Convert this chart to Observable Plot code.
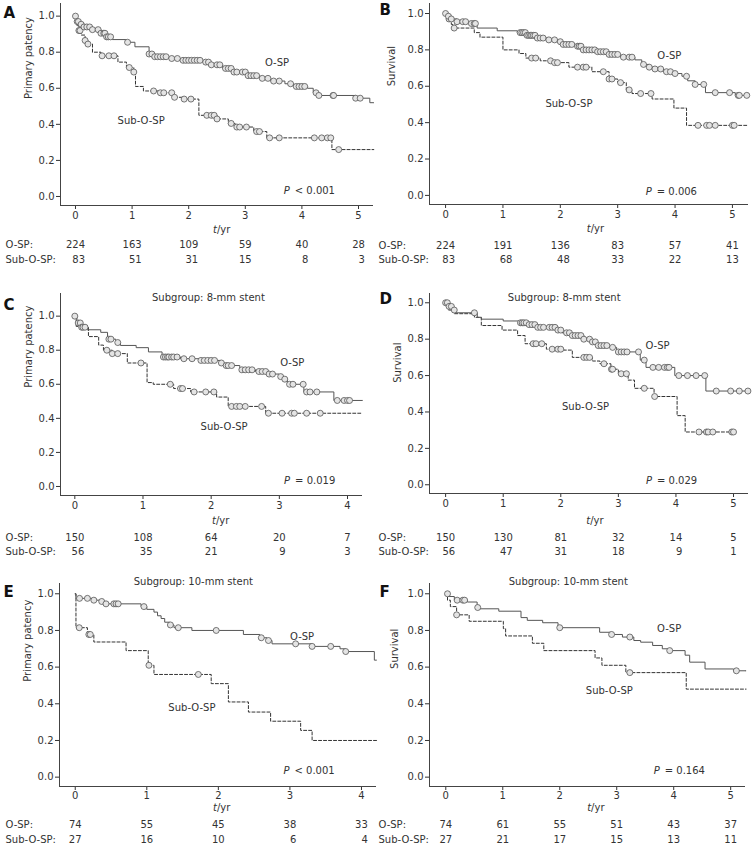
<!DOCTYPE html>
<html><head><meta charset="utf-8">
<script src="https://cdn.jsdelivr.net/npm/d3@7"></script>
<script src="https://cdn.jsdelivr.net/npm/@observablehq/plot@0.6"></script>
<style>
body{margin:0;background:#fff;}
#wrap{position:relative;width:754px;height:851px;overflow:hidden;background:#fff;}
#wrap svg{position:absolute;overflow:visible;}
</style></head><body><div id="wrap"></div>
<script>
// ---------- DATA ----------
const groupNames = ["O-SP", "Sub-O-SP"];
const panelLetters = ["A","B","C","D","E","F"];
const yTitles = ["Primary patency","Survival","Primary patency","Survival","Primary patency","Survival"];
const subgroupTitles = ["", "", "Subgroup: 8-mm stent", "Subgroup: 8-mm stent", "Subgroup: 10-mm stent", "Subgroup: 10-mm stent"];
const pSigns = ["<", "=", "=", "=", "<", "="];
const pValues = ["0.001", "0.006", "0.019", "0.029", "0.001", "0.164"];
const yTicks = [0, 0.2, 0.4, 0.6, 0.8, 1.0];
const xTicks5 = [0, 1, 2, 3, 4, 5];
const xTicks4 = [0, 1, 2, 3, 4];

// Kaplan-Meier steps [time (yr), estimate] and censor times
const A_osp = [[0,1],[0.02,0.97],[0.08,0.955],[0.15,0.94],[0.3,0.925],[0.45,0.905],[0.55,0.885],[0.65,0.87],[0.9,0.855],[1.05,0.83],[1.3,0.79],[1.38,0.775],[1.65,0.765],[1.9,0.755],[2.25,0.745],[2.4,0.73],[2.6,0.71],[2.8,0.69],[3.05,0.67],[3.25,0.655],[3.45,0.64],[3.7,0.625],[3.85,0.61],[4.1,0.6],[4.2,0.575],[4.3,0.56],[4.95,0.545],[5.2,0.52]];
const A_osp_cens = [0,0.03,0.05,0.1,0.15,0.2,0.25,0.3,0.4,0.45,0.5,0.52,0.55,0.58,0.62,0.92,1.3,1.35,1.4,1.45,1.5,1.55,1.6,1.7,1.8,1.9,1.95,2.0,2.05,2.1,2.15,2.2,2.3,2.35,2.4,2.5,2.55,2.65,2.7,2.75,2.8,2.85,2.95,3.0,3.05,3.1,3.15,3.2,3.3,3.4,3.5,3.6,3.8,3.9,3.95,4.0,4.05,4.25,4.3,4.55,4.56,4.95,5.03];
const A_sub = [[0,1],[0.02,0.95],[0.05,0.92],[0.1,0.895],[0.17,0.865],[0.22,0.845],[0.3,0.8],[0.45,0.78],[0.75,0.745],[0.9,0.715],[1.03,0.69],[1.06,0.61],[1.2,0.585],[1.5,0.575],[1.72,0.55],[1.9,0.54],[2.18,0.45],[2.5,0.43],[2.7,0.405],[2.82,0.385],[3.15,0.36],[3.38,0.325],[4.53,0.26]];
const A_sub_cens = [0.06,0.08,0.17,0.22,0.47,0.59,0.68,0.95,1.03,1.38,1.5,1.56,1.7,1.75,1.92,2.04,2.32,2.4,2.45,2.5,2.75,2.85,2.9,3.02,3.2,3.25,3.43,3.6,4.22,4.35,4.45,4.51,4.65];

const B_osp = [[0,1],[0.03,0.985],[0.08,0.97],[0.2,0.955],[0.4,0.945],[0.55,0.92],[0.9,0.905],[1.25,0.895],[1.4,0.88],[1.6,0.865],[1.8,0.855],[1.95,0.845],[2.05,0.83],[2.25,0.82],[2.4,0.8],[2.65,0.79],[2.85,0.775],[3.05,0.76],[3.3,0.745],[3.42,0.72],[3.55,0.705],[3.65,0.695],[3.8,0.68],[3.98,0.67],[4.12,0.655],[4.22,0.63],[4.35,0.61],[4.53,0.565],[5.05,0.55]];
const B_osp_cens = [0,0.05,0.1,0.2,0.3,0.35,0.45,0.5,0.52,1.3,1.33,1.36,1.39,1.42,1.45,1.48,1.5,1.53,1.56,1.6,1.65,1.7,1.8,1.9,2.0,2.05,2.1,2.15,2.2,2.3,2.33,2.36,2.4,2.45,2.5,2.55,2.6,2.65,2.7,2.75,2.8,2.85,2.9,2.95,3.0,3.1,3.2,3.25,3.45,3.55,3.65,3.75,3.85,3.92,4.0,4.2,4.35,4.5,4.7,4.95,5.1,5.12,5.25];
const B_sub = [[0,1],[0.04,0.97],[0.1,0.94],[0.15,0.92],[0.5,0.895],[0.6,0.87],[1.0,0.8],[1.28,0.78],[1.4,0.755],[1.65,0.74],[1.85,0.73],[2.15,0.705],[2.55,0.68],[2.85,0.64],[3.0,0.62],[3.15,0.58],[3.25,0.56],[3.6,0.53],[3.98,0.48],[4.2,0.385]];
const B_sub_cens = [0.06,0.15,1.5,1.57,1.83,1.9,1.95,2.3,2.4,2.45,2.75,2.85,2.9,3.05,3.2,3.4,3.58,4.4,4.55,4.6,4.7,5.0,5.03];

const C_osp = [[0,1],[0.03,0.96],[0.1,0.935],[0.18,0.92],[0.38,0.905],[0.48,0.865],[0.6,0.845],[0.67,0.828],[0.9,0.815],[1.08,0.79],[1.28,0.76],[1.55,0.75],[1.85,0.74],[2.14,0.725],[2.2,0.71],[2.42,0.685],[2.65,0.675],[2.82,0.66],[3.0,0.645],[3.06,0.63],[3.12,0.6],[3.36,0.555],[3.8,0.505]];
const C_osp_cens = [0,0.05,0.08,0.1,0.12,0.15,0.5,0.53,0.63,1.3,1.33,1.36,1.38,1.42,1.45,1.5,1.6,1.72,1.85,1.9,1.95,2.0,2.05,2.15,2.22,2.25,2.3,2.45,2.5,2.55,2.6,2.7,2.75,2.8,2.85,2.9,3.02,3.08,3.15,3.2,3.35,3.4,3.45,3.55,3.85,3.95,4.0,4.03];
const C_sub = [[0,1],[0.02,0.94],[0.2,0.88],[0.35,0.83],[0.42,0.8],[0.55,0.78],[0.77,0.725],[1.06,0.61],[1.15,0.6],[1.45,0.575],[1.7,0.555],[2.08,0.525],[2.25,0.47],[2.8,0.43]];
const C_sub_cens = [0.47,0.55,0.63,0.97,1.4,1.55,1.58,1.75,1.92,2.04,2.3,2.37,2.42,2.5,2.74,2.84,3.04,3.18,3.22,3.4,3.6];

const D_osp = [[0,1],[0.05,0.98],[0.12,0.96],[0.18,0.945],[0.55,0.92],[0.62,0.91],[1.0,0.9],[1.3,0.89],[1.45,0.88],[1.6,0.865],[1.92,0.85],[2.02,0.835],[2.2,0.82],[2.4,0.8],[2.52,0.785],[2.64,0.765],[2.82,0.755],[2.97,0.73],[3.38,0.685],[3.48,0.645],[3.98,0.6],[4.52,0.515]];
const D_osp_cens = [0,0.03,0.06,0.1,0.15,0.5,1.3,1.33,1.36,1.4,1.45,1.5,1.55,1.6,1.65,1.7,1.8,1.85,1.9,1.95,2.0,2.1,2.15,2.2,2.25,2.3,2.35,2.4,2.5,2.55,2.6,2.65,2.7,2.75,2.8,2.9,3.0,3.05,3.1,3.15,3.35,3.45,3.6,3.7,3.8,3.85,3.88,4.05,4.2,4.35,4.5,4.7,4.95,5.1,5.25];
const D_sub = [[0,1],[0.05,0.96],[0.15,0.94],[0.5,0.92],[0.62,0.875],[0.98,0.85],[1.25,0.82],[1.38,0.775],[1.75,0.745],[2.05,0.74],[2.2,0.7],[2.55,0.68],[2.68,0.665],[2.87,0.635],[3.0,0.61],[3.17,0.575],[3.28,0.53],[3.62,0.485],[4.02,0.38],[4.16,0.29]];
const D_sub_cens = [1.52,1.57,1.67,1.85,1.95,2.0,2.4,2.45,2.5,2.75,2.88,2.9,3.05,3.14,3.45,3.63,4.4,4.53,4.56,4.64,4.97,5.0];

const E_osp = [[0,1],[0.01,0.975],[0.23,0.965],[0.35,0.958],[0.42,0.945],[0.92,0.93],[1.0,0.915],[1.1,0.9],[1.15,0.88],[1.2,0.865],[1.25,0.845],[1.32,0.83],[1.38,0.815],[1.63,0.8],[2.35,0.778],[2.58,0.76],[2.68,0.745],[2.75,0.727],[3.3,0.713],[3.7,0.7],[3.78,0.685],[4.18,0.638]];
const E_osp_cens = [0.06,0.17,0.26,0.37,0.43,0.54,0.57,0.6,0.96,1.33,1.44,1.97,2.6,2.7,3.08,3.31,3.57,3.78];
const E_sub = [[0,1],[0.01,0.815],[0.17,0.778],[0.26,0.737],[0.71,0.69],[1.02,0.61],[1.1,0.56],[1.9,0.51],[2.14,0.41],[2.42,0.355],[2.73,0.305],[3.15,0.255],[3.31,0.2]];
const E_sub_cens = [0.056,0.19,0.21,1.03,1.72];

const F_osp = [[0,1],[0.04,0.985],[0.15,0.965],[0.38,0.955],[0.55,0.925],[0.58,0.918],[0.93,0.905],[1.32,0.87],[1.43,0.855],[1.7,0.842],[1.97,0.815],[2.7,0.79],[2.9,0.778],[3.1,0.764],[3.3,0.745],[3.42,0.736],[3.63,0.718],[3.8,0.7],[3.9,0.69],[4.2,0.665],[4.28,0.627],[4.55,0.59],[5.05,0.58]];
const F_osp_cens = [0.03,0.2,0.3,0.33,0.56,2.0,2.91,3.23,3.93,5.1];
const F_sub = [[0,1],[0.03,0.965],[0.08,0.93],[0.19,0.885],[0.41,0.85],[1.01,0.81],[1.05,0.77],[1.52,0.73],[1.72,0.69],[2.62,0.65],[2.74,0.61],[3.16,0.57],[4.22,0.48]];
const F_sub_cens = [0.19,3.23];

// follow-up end of each curve (yr)
const curveEnds = {A:[5.27,5.27], B:[5.27,5.27], C:[4.22,4.22], D:[5.27,5.04], E:[4.21,4.21], F:[5.27,5.27]};

// numbers at risk
const A_risk_osp = [224,163,109,59,40,28], A_risk_sub = [83,51,31,15,8,3];
const B_risk_osp = [224,191,136,83,57,41], B_risk_sub = [83,68,48,33,22,13];
const C_risk_osp = [150,108,64,20,7],      C_risk_sub = [56,35,21,9,3];
const D_risk_osp = [150,130,81,32,14,5],   D_risk_sub = [56,47,31,18,9,1];
const E_risk_osp = [74,55,45,38,33],       E_risk_sub = [27,16,10,6,4];
const F_risk_osp = [74,61,55,51,43,37],    F_risk_sub = [27,21,17,15,13,11];

// ---------- LAYOUT (positions / sizes only) ----------
const layout = {
  A:{left:0,top:0,width:377,height:288,ml:60,mr:4,mt:3,mb:83,xdom:[-0.265,5.265],ydom:[-0.05,1.07],rows:[27,42,57],rowDx:-55,letter:[-57,4],ylab:[-32,0.54],tyr:2.5,tp:2,
     lab:{osp:[3.56,0.74],sub:[1.16,0.42],p:[3.68,0.03]}},
  B:{left:377,top:0,width:377,height:288,ml:52,mr:6,mt:3,mb:84,xdom:[-0.28,5.28],ydom:[-0.05,1.055],rows:[27,44,58],rowDx:-51,letter:[-50,1],ylab:[-38,0.6],tyr:2.53,tp:2,
     lab:{osp:[3.9,0.77],sub:[2.15,0.505],p:[3.49,0.018]}},
  C:{left:0,top:288,width:377,height:287,ml:60,mr:15,mt:5,mb:80,xdom:[-0.21,4.22],ydom:[-0.053,1.133],rows:[28,45,59],rowDx:-55,letter:[-57,6],ylab:[-32,0.58],tyr:2.07,tp:2,
     lab:{title:[1.96,1.11],osp:[3.19,0.724],sub:[2.19,0.352],p:[3.07,0.035]}},
  D:{left:377,top:288,width:377,height:287,ml:52,mr:6,mt:5,mb:82,xdom:[-0.28,5.26],ydom:[-0.048,1.051],rows:[30,47,61],rowDx:-51,letter:[-50,0],ylab:[-32,0.56],tyr:2.51,tp:2,
     lab:{title:[2.06,1.027],osp:[3.68,0.765],sub:[2.43,0.43],p:[3.48,0.02]}},
  E:{left:0,top:575,width:377,height:276,ml:59,mr:1,mt:8,mb:65,xdom:[-0.22,4.21],ydom:[-0.051,1.056],rows:[24,41,56],rowDx:-54,letter:[-56,3],ylab:[-32,0.52],tyr:1.98,tp:1,
     lab:{title:[1.65,1.064],osp:[3.17,0.764],sub:[1.63,0.38],p:[2.91,0.036]}},
  F:{left:377,top:575,width:377,height:276,ml:52,mr:9,mt:8,mb:65,xdom:[-0.286,5.26],ydom:[-0.051,1.056],rows:[24,41,56],rowDx:-51,letter:[-50,3],ylab:[-35,0.59],tyr:2.55,tp:1,
     lab:{title:[2.15,1.064],osp:[3.92,0.81],sub:[2.87,0.473],p:[3.65,0.036]}}
};

const DATA = {
  A:{osp:A_osp,ospC:A_osp_cens,sub:A_sub,subC:A_sub_cens,rO:A_risk_osp,rS:A_risk_sub,ticks:xTicks5},
  B:{osp:B_osp,ospC:B_osp_cens,sub:B_sub,subC:B_sub_cens,rO:B_risk_osp,rS:B_risk_sub,ticks:xTicks5},
  C:{osp:C_osp,ospC:C_osp_cens,sub:C_sub,subC:C_sub_cens,rO:C_risk_osp,rS:C_risk_sub,ticks:xTicks4},
  D:{osp:D_osp,ospC:D_osp_cens,sub:D_sub,subC:D_sub_cens,rO:D_risk_osp,rS:D_risk_sub,ticks:xTicks5},
  E:{osp:E_osp,ospC:E_osp_cens,sub:E_sub,subC:E_sub_cens,rO:E_risk_osp,rS:E_risk_sub,ticks:xTicks4},
  F:{osp:F_osp,ospC:F_osp_cens,sub:F_sub,subC:F_sub_cens,rO:F_risk_osp,rS:F_risk_sub,ticks:xTicks5}
};

// ---------- HELPERS ----------
function stepAt(curve, t) { let v = curve[0][1]; for (const [ti, si] of curve) if (ti <= t) v = si; return v; }
function linePts(curve, end) { const p = curve.map(([t, s]) => ({t, s})); p.push({t: end, s: curve[curve.length - 1][1]}); return p; }
function censPts(curve, times) { return times.map(t => ({t, s: stepAt(curve, t)})); }

const FONT = "DejaVu Sans, Verdana, sans-serif";
const INK = "#333";
const wrap = document.getElementById("wrap");

panelLetters.forEach((key, i) => {
  const L = layout[key], D = DATA[key];
  const fw = L.width - L.ml - L.mr;
  const pxPerYr = fw / (L.xdom[1] - L.xdom[0]);
  const halfDigit = 3.18; // half of a digit width at 10px
  const riskO = D.ticks.map((t, j) => ({t, n: D.rO[j]}));
  const riskS = D.ticks.map((t, j) => ({t: t + (String(D.rO[j]).length * halfDigit) / pxPerYr, n: D.rS[j]}));
  const [endO, endS] = curveEnds[key];

  const marks = [
    Plot.ruleX([L.xdom[0]], {stroke: "#444", strokeWidth: 1}),
    Plot.ruleY([L.ydom[0]], {stroke: "#444", strokeWidth: 1}),
    Plot.line(linePts(D.sub, endS), {x: "t", y: "s", curve: "step-after", stroke: "#333", strokeWidth: 1, strokeDasharray: "3,2"}),
    Plot.line(linePts(D.osp, endO), {x: "t", y: "s", curve: "step-after", stroke: "#555", strokeWidth: 1}),
    Plot.dot(censPts(D.sub, D.subC), {x: "t", y: "s", r: 3, stroke: "#555", fill: "#e4e4e4", strokeWidth: 0.8}),
    Plot.dot(censPts(D.osp, D.ospC), {x: "t", y: "s", r: 3, stroke: "#555", fill: "#e4e4e4", strokeWidth: 0.8}),
    Plot.text([panelLetters[i]], {frameAnchor: "top-left", textAnchor: "start", lineAnchor: "top", dx: L.letter[0], dy: L.letter[1], fontSize: 15, fontWeight: "bold", fill: "#111"}),
    Plot.text([{y: L.ylab[1]}], {y: "y", text: () => yTitles[i], frameAnchor: "left", rotate: -90, dx: L.ylab[0], fontSize: 10, fill: INK}),
    Plot.text([{x: L.lab.osp[0], y: L.lab.osp[1]}], {x: "x", y: "y", text: () => groupNames[0], fontSize: 10, fill: INK}),
    Plot.text([{x: L.lab.sub[0], y: L.lab.sub[1]}], {x: "x", y: "y", text: () => groupNames[1], fontSize: 10, fill: INK}),
    Plot.text([{x: L.lab.p[0], y: L.lab.p[1]}], {x: "x", y: "y", text: () => "P", fontStyle: "italic", textAnchor: "start", fontSize: 10, fill: INK}),
    Plot.text([{x: L.lab.p[0], y: L.lab.p[1]}], {x: "x", y: "y", text: () => pSigns[i] + " " + pValues[i], textAnchor: "start", dx: 11, fontSize: 10, fill: INK}),
    Plot.text([{x: L.tyr}], {x: "x", text: () => "t", frameAnchor: "bottom", textAnchor: "end", dy: L.rows[0], fontStyle: "italic", fontSize: 10, fill: INK}),
    Plot.text([{x: L.tyr}], {x: "x", text: () => "/yr", frameAnchor: "bottom", textAnchor: "start", dy: L.rows[0], fontSize: 10, fill: INK}),
    Plot.text([groupNames[0] + ":"], {frameAnchor: "bottom-left", textAnchor: "start", dx: L.rowDx, dy: L.rows[1], fontSize: 10, fill: INK}),
    Plot.text([groupNames[1] + ":"], {frameAnchor: "bottom-left", textAnchor: "start", dx: L.rowDx, dy: L.rows[2], fontSize: 10, fill: INK}),
    Plot.text(riskO, {x: "t", text: d => String(d.n), frameAnchor: "bottom", textAnchor: "middle", dy: L.rows[1], fontSize: 10, fill: INK}),
    Plot.text(riskS, {x: "t", text: d => String(d.n), frameAnchor: "bottom", textAnchor: "end", dy: L.rows[2], fontSize: 10, fill: INK})
  ];
  if (subgroupTitles[i]) {
    marks.push(Plot.text([{x: L.lab.title[0], y: L.lab.title[1]}], {x: "x", y: "y", text: () => subgroupTitles[i], fontSize: 10, fill: INK}));
  }

  const svg = Plot.plot({
    width: L.width, height: L.height,
    marginLeft: L.ml, marginRight: L.mr, marginTop: L.mt, marginBottom: L.mb,
    style: {fontFamily: FONT, fontSize: "10px", color: INK, background: "transparent", overflow: "visible"},
    x: {domain: L.xdom, ticks: D.ticks, tickSize: 4, tickPadding: L.tp, tickFormat: d3.format("d"), label: null},
    y: {domain: L.ydom, ticks: yTicks, tickSize: 4, tickPadding: 2, tickFormat: d3.format(".1f"), label: null},
    marks
  });
  svg.style.left = L.left + "px";
  svg.style.top = L.top + "px";
  wrap.appendChild(svg);
});
</script>
</body></html>
